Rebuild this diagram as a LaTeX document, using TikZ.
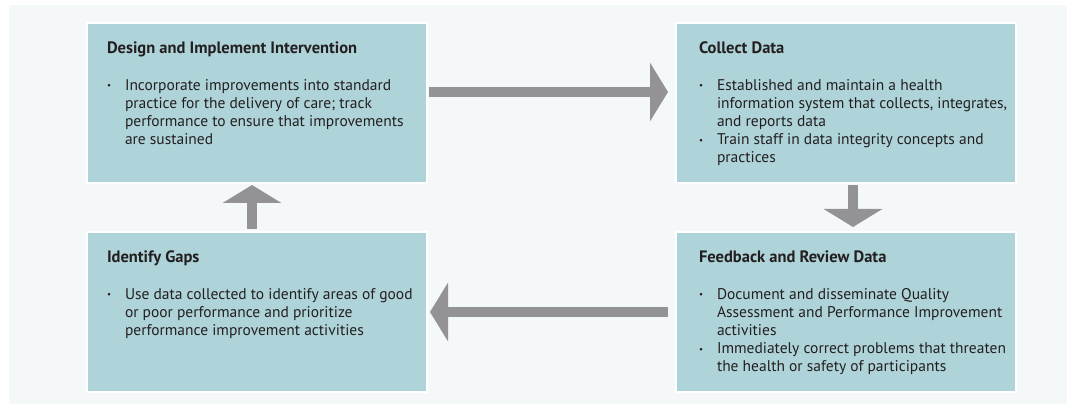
\documentclass[tikz,border=0pt]{standalone}
\usepackage{fontspec}
\setmainfont{PT Sans}
\usetikzlibrary{arrows.meta, positioning}

\definecolor{panelbg}{HTML}{F4F8F9}
\definecolor{boxfill}{HTML}{AED3D8}
\definecolor{arrowgray}{HTML}{939397}
\definecolor{textdark}{HTML}{231F20}

\newcommand{\bul}{\raisebox{1.5pt}{\fontsize{9pt}{9pt}\selectfont\textbullet}}
\newcommand{\stepcontent}[3][300pt]{%
  \parbox[c][124pt][t]{#1}{\fontsize{15.5pt}{18.2pt}\selectfont
    \begin{tabular}[t]{@{}p{18pt}@{}l@{}}
      \multicolumn{2}{@{}l@{}}{\fontsize{16.5pt}{18.2pt}\selectfont\bfseries #2}\\[18.2pt]
      #3
    \end{tabular}}}

\begin{document}
\begin{tikzpicture}[
    x=1pt, y=1pt,
    stepbox/.style={rectangle, fill=boxfill, draw=white, line width=1.5pt, outer sep=0pt, minimum width=340pt, minimum height=160pt, inner xsep=20pt, inner ysep=18pt, text=textdark},
    rightbox/.style={stepbox, inner xsep=23pt},
    flow/.style={draw=arrowgray, line width=9.5pt, -{Triangle[length=18pt, width=58pt]}}
]
\useasboundingbox (0,0) rectangle (1067,404);
\fill[panelbg] (9,0) rectangle (1067,399);

% Boxes
\node (design) [stepbox] at (257,301) {\stepcontent{Design and Implement Intervention}{%
  \bul & Incorporate improvements into standard\\
       & practice for the delivery of care; track\\
       & performance to ensure that improvements\\
       & are sustained}};
\node (collect) [rightbox, right=249pt of design] {\stepcontent[294pt]{Collect Data}{%
  \bul & Established and maintain a health\\
       & information system that collects, integrates,\\
       & and reports data\\
  \bul & Train staff in data integrity concepts and\\
       & practices}};
\node (identify) [stepbox, below=49pt of design] {\stepcontent{Identify Gaps}{%
  \bul & Use data collected to identify areas of good\\
       & or poor performance and prioritize\\
       & performance improvement activities}};
\node (feedback) [rightbox, below=49pt of collect] {\stepcontent[294pt]{Feedback and Review Data}{%
  \bul & Document and disseminate Quality\\
       & Assessment and Performance Improvement\\
       & activities\\
  \bul & Immediately correct problems that threaten\\
       & the health or safety of participants}};

% Arrows
\draw [flow] ([shift={(2pt,11pt)}]design.east) -- ([shift={(-8pt,11pt)}]collect.west);
\draw [flow] ([shift={(7pt,-2pt)}]collect.south) -- ([shift={(7pt,5pt)}]feedback.north);
\draw [flow] ([xshift=-8pt]feedback.west) -- ([xshift=3pt]identify.east);
\draw [flow] ([shift={(-5pt,3pt)}]identify.north) -- ([shift={(-5pt,-2pt)}]design.south);

\end{tikzpicture}
\end{document}
